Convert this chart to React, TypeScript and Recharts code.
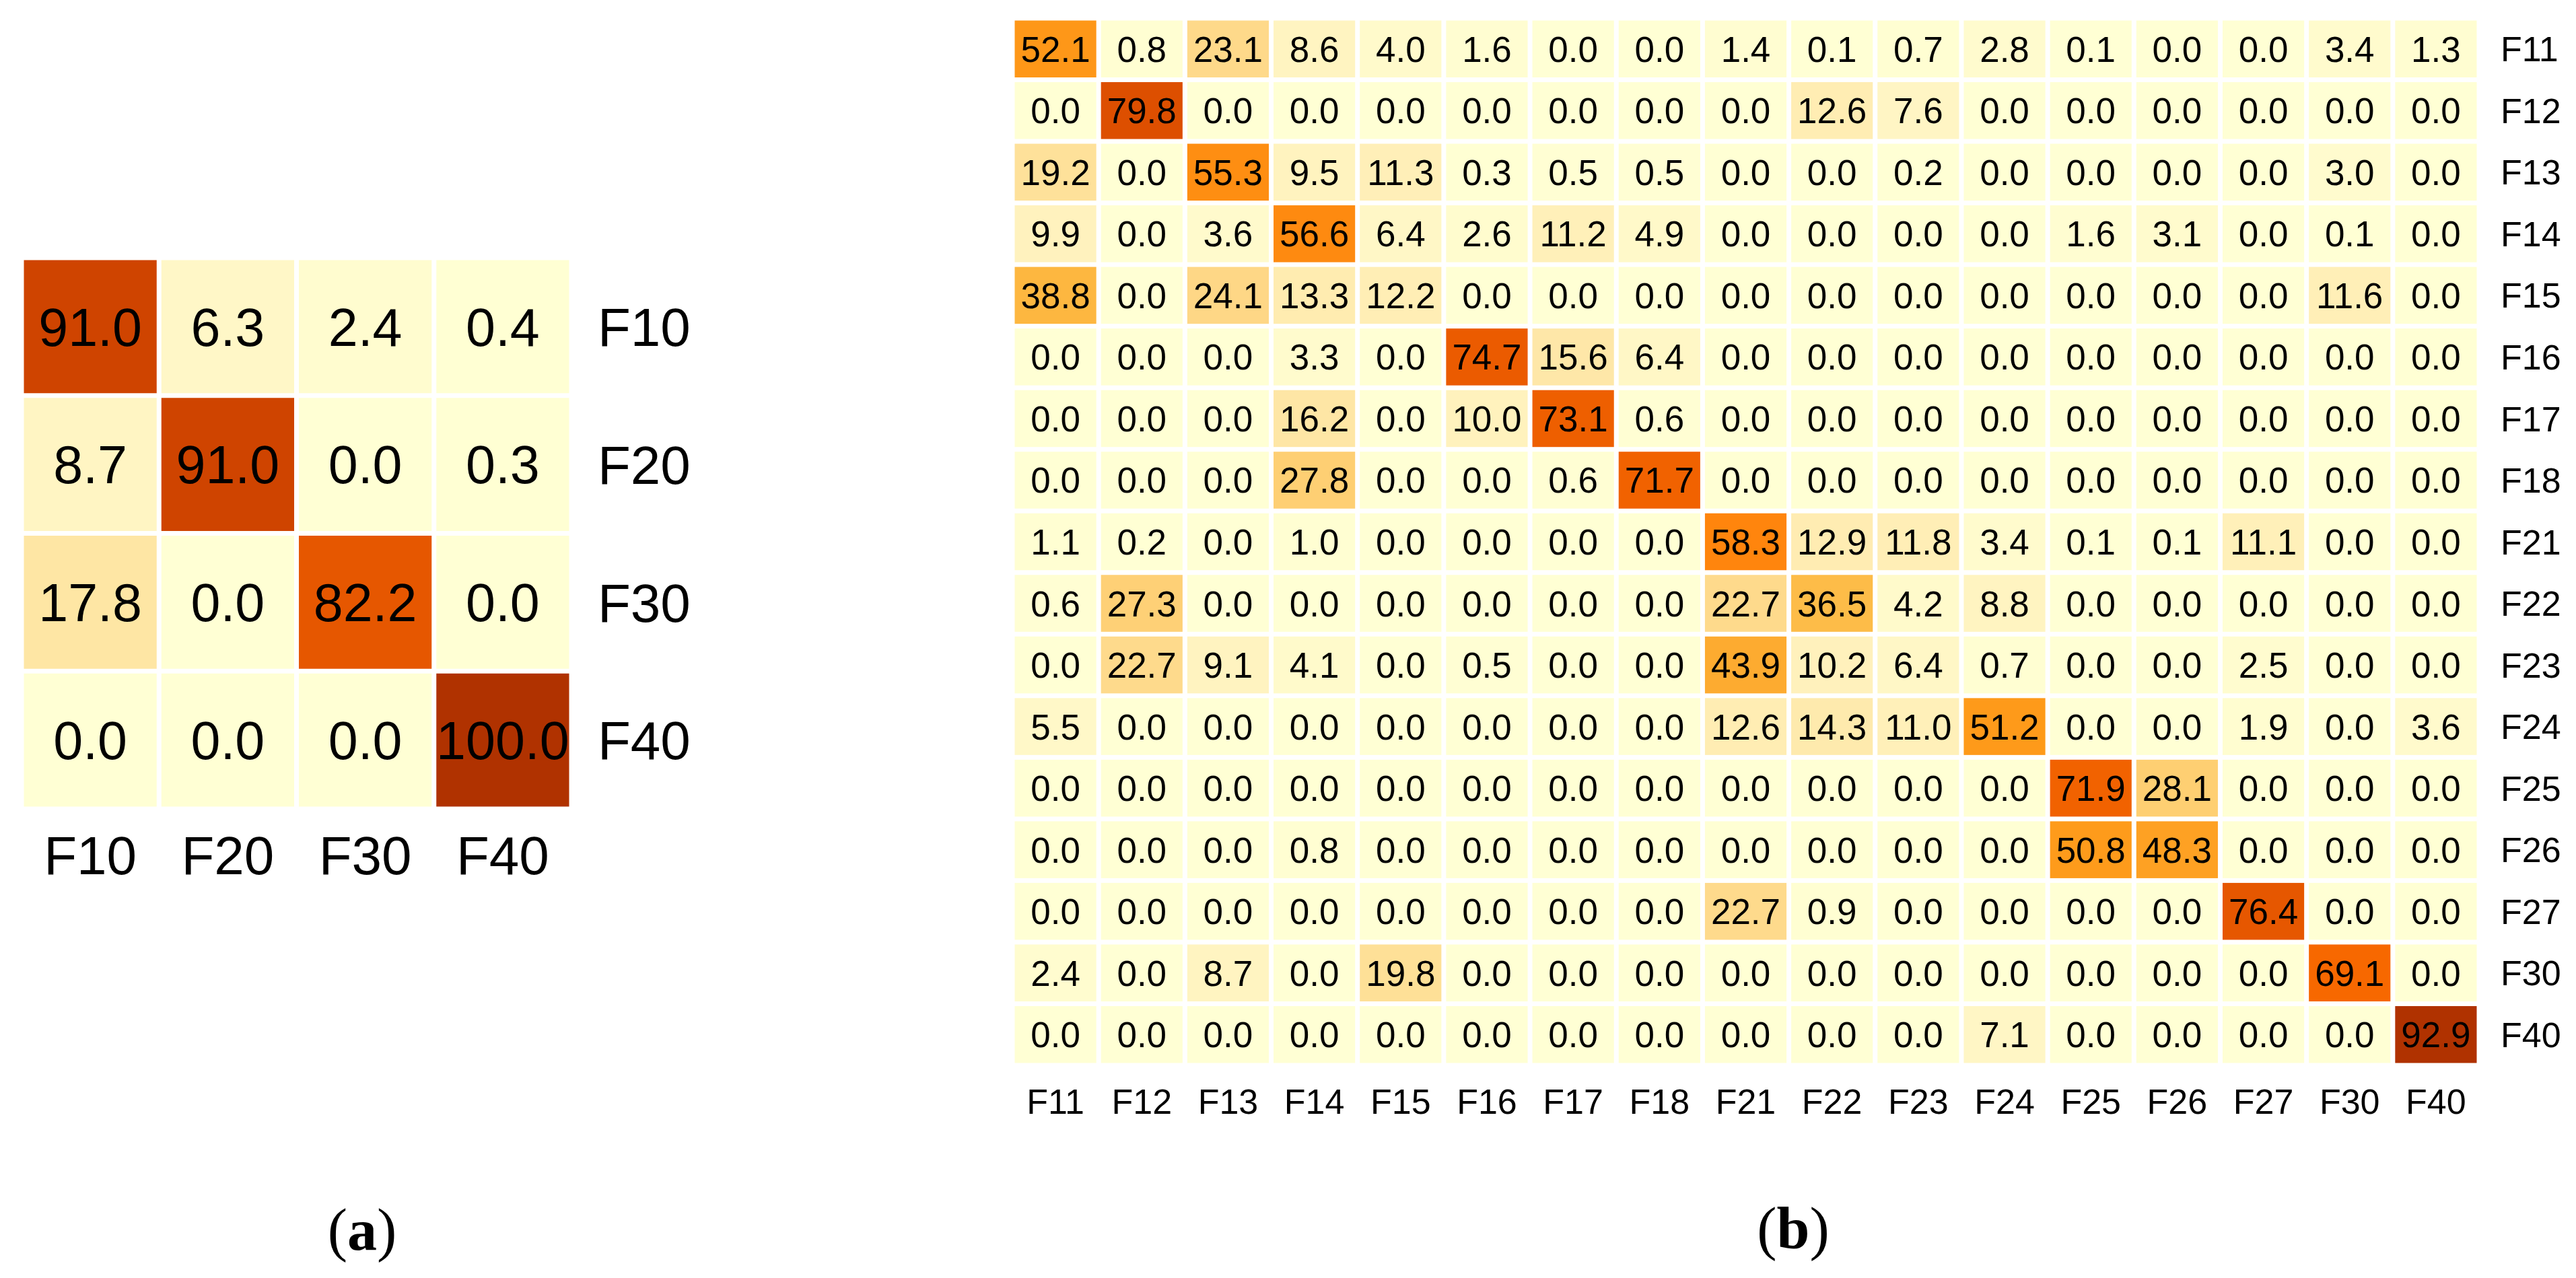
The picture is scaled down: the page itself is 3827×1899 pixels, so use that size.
import React from "react";
import { ScatterChart, Scatter, XAxis, YAxis } from "recharts";

const FONT = '"Liberation Sans", Arial, Helvetica, sans-serif';
const SERIF = '"Liberation Serif", "Times New Roman", serif';

// ---- Panel (a) ----
const colsA = ["F10", "F20", "F30", "F40"];
const rowsA = ["F10", "F20", "F30", "F40"];
const rowA_F10 = [91.0, 6.3, 2.4, 0.4];
const rowA_F20 = [8.7, 91.0, 0.0, 0.3];
const rowA_F30 = [17.8, 0.0, 82.2, 0.0];
const rowA_F40 = [0.0, 0.0, 0.0, 100.0];
const matrixA = [rowA_F10, rowA_F20, rowA_F30, rowA_F40];

// ---- Panel (b) ----
const colsB = ["F11", "F12", "F13", "F14", "F15", "F16", "F17", "F18", "F21", "F22", "F23", "F24", "F25", "F26", "F27", "F30", "F40"];
const rowsB = ["F11", "F12", "F13", "F14", "F15", "F16", "F17", "F18", "F21", "F22", "F23", "F24", "F25", "F26", "F27", "F30", "F40"];
const rowB_F11 = [52.1, 0.8, 23.1, 8.6, 4.0, 1.6, 0.0, 0.0, 1.4, 0.1, 0.7, 2.8, 0.1, 0.0, 0.0, 3.4, 1.3];
const rowB_F12 = [0.0, 79.8, 0.0, 0.0, 0.0, 0.0, 0.0, 0.0, 0.0, 12.6, 7.6, 0.0, 0.0, 0.0, 0.0, 0.0, 0.0];
const rowB_F13 = [19.2, 0.0, 55.3, 9.5, 11.3, 0.3, 0.5, 0.5, 0.0, 0.0, 0.2, 0.0, 0.0, 0.0, 0.0, 3.0, 0.0];
const rowB_F14 = [9.9, 0.0, 3.6, 56.6, 6.4, 2.6, 11.2, 4.9, 0.0, 0.0, 0.0, 0.0, 1.6, 3.1, 0.0, 0.1, 0.0];
const rowB_F15 = [38.8, 0.0, 24.1, 13.3, 12.2, 0.0, 0.0, 0.0, 0.0, 0.0, 0.0, 0.0, 0.0, 0.0, 0.0, 11.6, 0.0];
const rowB_F16 = [0.0, 0.0, 0.0, 3.3, 0.0, 74.7, 15.6, 6.4, 0.0, 0.0, 0.0, 0.0, 0.0, 0.0, 0.0, 0.0, 0.0];
const rowB_F17 = [0.0, 0.0, 0.0, 16.2, 0.0, 10.0, 73.1, 0.6, 0.0, 0.0, 0.0, 0.0, 0.0, 0.0, 0.0, 0.0, 0.0];
const rowB_F18 = [0.0, 0.0, 0.0, 27.8, 0.0, 0.0, 0.6, 71.7, 0.0, 0.0, 0.0, 0.0, 0.0, 0.0, 0.0, 0.0, 0.0];
const rowB_F21 = [1.1, 0.2, 0.0, 1.0, 0.0, 0.0, 0.0, 0.0, 58.3, 12.9, 11.8, 3.4, 0.1, 0.1, 11.1, 0.0, 0.0];
const rowB_F22 = [0.6, 27.3, 0.0, 0.0, 0.0, 0.0, 0.0, 0.0, 22.7, 36.5, 4.2, 8.8, 0.0, 0.0, 0.0, 0.0, 0.0];
const rowB_F23 = [0.0, 22.7, 9.1, 4.1, 0.0, 0.5, 0.0, 0.0, 43.9, 10.2, 6.4, 0.7, 0.0, 0.0, 2.5, 0.0, 0.0];
const rowB_F24 = [5.5, 0.0, 0.0, 0.0, 0.0, 0.0, 0.0, 0.0, 12.6, 14.3, 11.0, 51.2, 0.0, 0.0, 1.9, 0.0, 3.6];
const rowB_F25 = [0.0, 0.0, 0.0, 0.0, 0.0, 0.0, 0.0, 0.0, 0.0, 0.0, 0.0, 0.0, 71.9, 28.1, 0.0, 0.0, 0.0];
const rowB_F26 = [0.0, 0.0, 0.0, 0.8, 0.0, 0.0, 0.0, 0.0, 0.0, 0.0, 0.0, 0.0, 50.8, 48.3, 0.0, 0.0, 0.0];
const rowB_F27 = [0.0, 0.0, 0.0, 0.0, 0.0, 0.0, 0.0, 0.0, 22.7, 0.9, 0.0, 0.0, 0.0, 0.0, 76.4, 0.0, 0.0];
const rowB_F30 = [2.4, 0.0, 8.7, 0.0, 19.8, 0.0, 0.0, 0.0, 0.0, 0.0, 0.0, 0.0, 0.0, 0.0, 0.0, 69.1, 0.0];
const rowB_F40 = [0.0, 0.0, 0.0, 0.0, 0.0, 0.0, 0.0, 0.0, 0.0, 0.0, 0.0, 7.1, 0.0, 0.0, 0.0, 0.0, 92.9];
const matrixB = [
  rowB_F11, rowB_F12, rowB_F13, rowB_F14, rowB_F15, rowB_F16, rowB_F17, rowB_F18,
  rowB_F21, rowB_F22, rowB_F23, rowB_F24, rowB_F25, rowB_F26, rowB_F27, rowB_F30, rowB_F40,
];

// colour scale (light yellow -> orange -> dark brown-red)
const STOPS: [number, number[]][] = [
  [0.0, [255, 255, 212]],
  [0.1, [255, 243, 192]],
  [0.2, [254, 226, 156]],
  [0.25, [254, 217, 138]],
  [0.4, [253, 187, 69]],
  [0.55, [254, 154, 26]],
  [0.7, [255, 114, 0]],
  [0.8, [236, 92, 0]],
  [0.9, [210, 70, 0]],
  [1.0, [176, 50, 0]],
];
function colorFor(t: number) {
  const v = Math.max(0, Math.min(1, t));
  for (let i = 1; i < STOPS.length; i++) {
    const [t1, c1] = STOPS[i];
    const [t0, c0] = STOPS[i - 1];
    if (v <= t1) {
      const f = (v - t0) / (t1 - t0);
      const c = c0.map((a, k) => Math.round(a + (c1[k] - a) * f));
      return `rgb(${c[0]},${c[1]},${c[2]})`;
    }
  }
  const c = STOPS[STOPS.length - 1][1];
  return `rgb(${c[0]},${c[1]},${c[2]})`;
}

type HeatProps = {
  rows: string[];
  cols: string[];
  matrix: number[][];
  left: number;
  width: number;
  height: number;
  margin: { top: number; left: number; right: number; bottom: number };
  yAxisWidth: number;
  xAxisHeight: number;
  fontSize: number;
  labelFontSize: number;
  gap: number;
  xLabelBaseline: number;
  yLabelOffset: number;
};

function Heatmap(p: HeatProps) {
  const data: { x: number; y: number; v: number }[] = [];
  p.matrix.forEach((row, r) => row.forEach((v, c) => data.push({ x: c, y: r, v })));
  const vmax = Math.max(...data.map((d) => d.v));
  const plotW = p.width - p.margin.left - p.margin.right - p.yAxisWidth;
  const plotH = p.height - p.margin.top - p.margin.bottom - p.xAxisHeight;
  const cw = plotW / p.cols.length - p.gap;
  const ch = plotH / p.rows.length - p.gap;
  const fs = p.fontSize;
  const lfs = p.labelFontSize;

  const shape = (props: any) => {
    const { cx, cy, payload } = props;
    return (
      <g>
        <rect x={cx - cw / 2} y={cy - ch / 2} width={cw} height={ch} fill={colorFor(payload.v / vmax)} />
        <text x={cx} y={cy + 0.358 * fs} textAnchor="middle" fontSize={fs} fontFamily={FONT} fill="#000">
          {payload.v.toFixed(1)}
        </text>
      </g>
    );
  };

  const xTick = (props: any) => {
    const { x, y, payload } = props;
    return (
      <text x={x} y={y + p.xLabelBaseline} textAnchor="middle" fontSize={lfs} fontFamily={FONT} fill="#000">
        {p.cols[payload.value]}
      </text>
    );
  };
  const yTick = (props: any) => {
    const { x, y, payload } = props;
    return (
      <text x={x + p.yLabelOffset} y={y + 0.358 * lfs} textAnchor="start" fontSize={lfs} fontFamily={FONT} fill="#000">
        {p.rows[payload.value]}
      </text>
    );
  };

  return (
    <div style={{ position: "absolute", left: p.left, top: 0 }}>
      <ScatterChart width={p.width} height={p.height} margin={p.margin}>
        <XAxis
          type="number"
          dataKey="x"
          domain={[-0.5, p.cols.length - 0.5]}
          ticks={p.cols.map((_, i) => i)}
          interval={0}
          height={p.xAxisHeight}
          axisLine={false}
          tickLine={false}
          tickSize={0}
          tickMargin={0}
          tick={xTick}
          allowDataOverflow
        />
        <YAxis
          type="number"
          dataKey="y"
          orientation="right"
          reversed
          domain={[-0.5, p.rows.length - 0.5]}
          ticks={p.rows.map((_, i) => i)}
          interval={0}
          width={p.yAxisWidth}
          axisLine={false}
          tickLine={false}
          tickSize={0}
          tickMargin={0}
          tick={yTick}
          allowDataOverflow
        />
        <Scatter data={data} shape={shape} isAnimationActive={false} />
      </ScatterChart>
    </div>
  );
}

export default function App() {
  return (
    <div style={{ position: "absolute", left: 0, top: 0, width: 3827, height: 1899, overflow: "hidden", background: "#fff" }}>
      <Heatmap
        rows={rowsA}
        cols={colsA}
        matrix={matrixA}
        left={0}
        width={1100}
        height={1400}
        margin={{ top: 383, left: 32, right: 51, bottom: 98 }}
        yAxisWidth={200}
        xAxisHeight={100}
        fontSize={79}
        labelFontSize={80}
        gap={7}
        xLabelBaseline={97}
        yLabelOffset={39}
      />
      <Heatmap
        rows={rowsB}
        cols={colsB}
        matrix={matrixB}
        left={1400}
        width={2427}
        height={1750}
        margin={{ top: 27, left: 104, right: 14, bottom: 67 }}
        yAxisWidth={130}
        xAxisHeight={100}
        fontSize={53}
        labelFontSize={52}
        gap={7}
        xLabelBaseline={72}
        yLabelOffset={32}
      />
      <svg width={3827} height={1899} style={{ position: "absolute", left: 0, top: 0, pointerEvents: "none" }}>
        <text x={538} y={1857} textAnchor="middle" fontSize={88} fontFamily={SERIF} fill="#000">
          (<tspan fontWeight="bold">a</tspan>)
        </text>
        <text x={2664} y={1855} textAnchor="middle" fontSize={88} fontFamily={SERIF} fill="#000">
          (<tspan fontWeight="bold">b</tspan>)
        </text>
      </svg>
    </div>
  );
}
